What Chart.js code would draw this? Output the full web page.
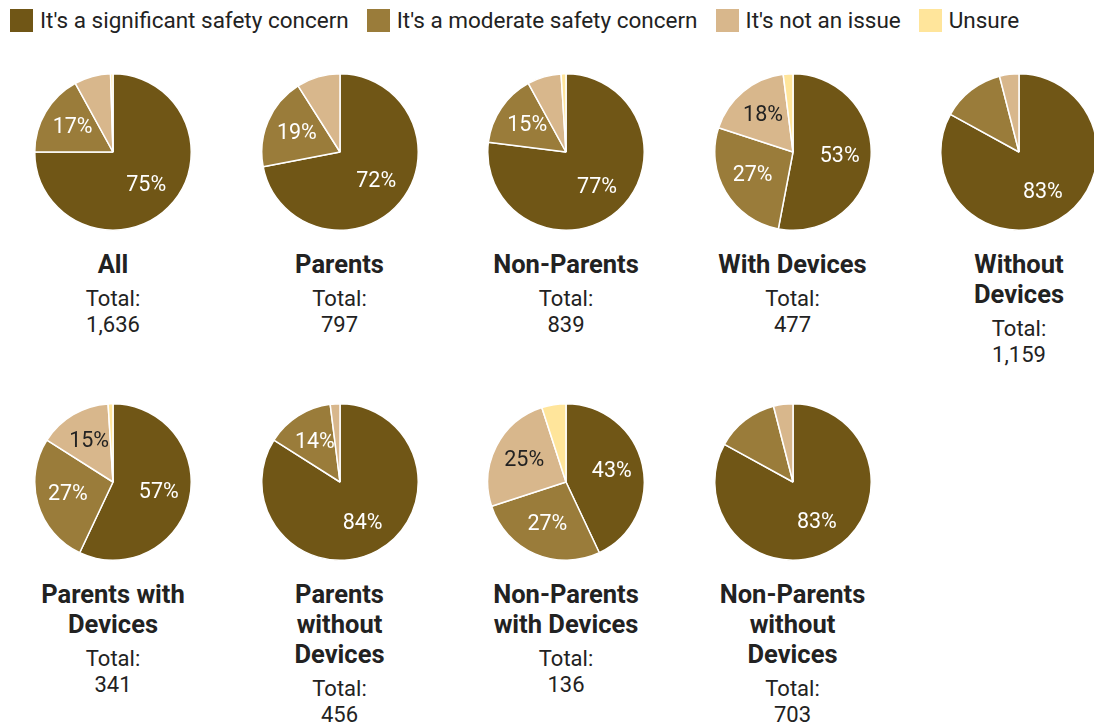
<!DOCTYPE html>
<html>
<head>
<meta charset="utf-8">
<script src="https://cdn.jsdelivr.net/npm/chart.js@4/dist/chart.umd.min.js"></script>
<style>
  body { margin: 0; background: #fff; font-family: Roboto, "Noto Sans", sans-serif; color: #222; }
  #legend { position: absolute; left: 10px; top: 7px; display: flex; align-items: center; font-size: 22.5px; white-space: nowrap; }
  #legend span.box { display: inline-block; width: 23px; height: 23px; margin-right: 7px; }
  #legend div { display: flex; align-items: center; margin-right: 18px; }
  .cell { position: absolute; width: 220px; text-align: center; }
  .pie { width: 158px; height: 158px; margin: 0 auto; }
  .title { font-weight: 700; font-size: 25.5px; line-height: 30px; margin-top: 18px; white-space: pre-line; }
  .total { font-size: 22px; line-height: 26px; margin-top: 7px; white-space: pre-line; }
</style>
</head>
<body>
<div id="legend"></div>
<div id="grid"></div>
<script>
// categories
const series = ["It's a significant safety concern", "It's a moderate safety concern", "It's not an issue", "Unsure"];
const colors = ['#705616', '#9a7c3a', '#d8b78c', '#ffe59b'];
const groups = ['All', 'Parents', 'Non-Parents', 'With Devices', 'Without\nDevices',
  'Parents with\nDevices', 'Parents\nwithout\nDevices', 'Non-Parents\nwith Devices', 'Non-Parents\nwithout\nDevices'];
const totals = ['1,636', '797', '839', '477', '1,159', '341', '456', '136', '703'];

// values (%), one array per answer
const significant = [75, 72, 77, 53, 83, 57, 84, 43, 83];
const moderate    = [17, 19, 15, 27, 13, 27, 14, 27, 13];
const notIssue    = [7.5, 9, 7, 18, 4, 15, 2, 25, 4];
const unsure      = [0.5, 0, 1, 2, 0, 1, 0, 5, 0];

// legend
const legend = document.getElementById('legend');
series.forEach((s, i) => {
  const d = document.createElement('div');
  d.innerHTML = `<span class="box" style="background:${colors[i]}"></span>${s.replace(/'/g, '&#39;')}`;
  legend.appendChild(d);
});

// percent labels inside slices
const sliceLabels = {
  id: 'sliceLabels',
  afterDatasetsDraw(chart) {
    const ctx = chart.ctx;
    const meta = chart.getDatasetMeta(0);
    const data = chart.data.datasets[0].data;
    ctx.save();
    ctx.font = '21.5px Roboto, sans-serif';
    ctx.textAlign = 'center';
    ctx.textBaseline = 'middle';
    meta.data.forEach((arc, i) => {
      if (data[i] < 14) return;
      const a = (arc.startAngle + arc.endAngle) / 2;
      const r = arc.outerRadius * 0.6;
      ctx.fillStyle = i >= 2 ? '#222' : '#fff';
      ctx.fillText(Math.round(data[i]) + '%', arc.x + Math.cos(a) * r, arc.y + Math.sin(a) * r);
    });
    ctx.restore();
  }
};

const grid = document.getElementById('grid');
groups.forEach((g, i) => {
  const col = i < 5 ? i : i - 5;
  const row = i < 5 ? 0 : 1;
  const cell = document.createElement('div');
  cell.className = 'cell';
  cell.style.left = (113 + col * 226.5 - 110) + 'px';
  cell.style.top = (row === 0 ? 73 : 403) + 'px';
  cell.innerHTML = `<div class="pie"><canvas id="c${i}"></canvas></div>
    <div class="title">${g}</div><div class="total">Total:\n${totals[i]}</div>`;
  grid.appendChild(cell);

  new Chart(document.getElementById('c' + i), {
    type: 'pie',
    data: {
      labels: series,
      datasets: [{
        data: [significant[i], moderate[i], notIssue[i], unsure[i]],
        backgroundColor: colors,
        borderColor: '#fff',
        borderWidth: 1.5
      }]
    },
    options: {
      responsive: true,
      maintainAspectRatio: false,
      animation: false,
      layout: { padding: 0 },
      plugins: { legend: { display: false }, tooltip: { enabled: false } }
    },
    plugins: [sliceLabels]
  });
});
</script>
</body>
</html>
